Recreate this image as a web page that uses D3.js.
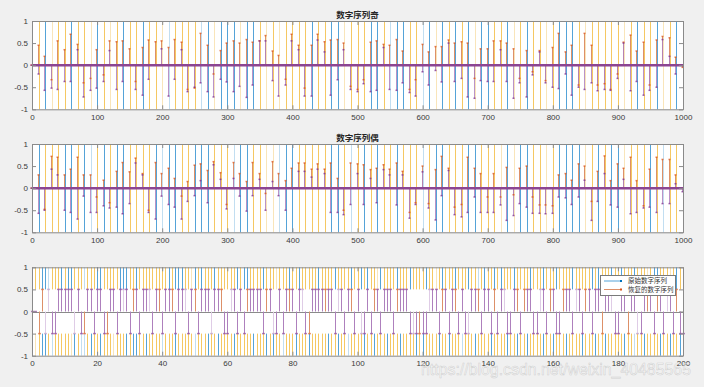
<!DOCTYPE html>
<html>
<head>
<meta charset="utf-8">
<script src="https://cdnjs.cloudflare.com/ajax/libs/d3/7.8.5/d3.min.js"></script>
<style>
  body { margin: 0; background: #f0f0f0; }
  svg { display: block; }
</style>
</head>
<body>
<div id="chart"></div>
<script>
//  STEP 1 : DATA

// odd sequence, one entry every 10 samples (0..1000)
const oddA = [0, 0.45, 0.2, -0.33, 0.55, 0.35, 0.7, 0.47, -0.4, -0.3,
  0.35, -0.22, 0.55, 0.53, 0.55, 0.37, -0.37, 0.4, 0.57, 0.53,
  0.55, 0.4, 0.58, 0.52, -0.55, -0.52, 0.72, 0.45, -0.2, 0.33,
  0.5, 0.55, 0.5, 0.58, 0.52, 0.55, 0.67, 0.32, 0.22, -0.32,
  0.7, 0.45, -0.52, 0.45, 0.7, 0.53, 0.57, 0.58, 0.5, -0.48,
  -0.55, -0.33, 0.52, 0.55, 0.47, 0.45, 0.58, 0.32, -0.55, -0.33,
  0.47, 0.3, 0.42, 0.42, 0.57, 0.5, 0.53, 0.5, -0.3, 0.37,
  0.37, 0.55, 0.55, 0.5, 0.37, -0.3, 0.33, -0.15, 0.33, -0.35,
  0.4, 0.72, 0.3, 0.45, -0.45, 0.72, 0.45, -0.45, -0.42, -0.55,
  -0.2, 0.52, 0.68, 0.32, 0.52, -0.45, 0.57, 0.65, 0.62, 0.18,
  -0.05];
const oddB = [0, -0.2, -0.57, -0.52, -0.55, -0.37, -0.37, 0.35, -0.72, -0.57,
  -0.52, -0.37, 0.33, -0.55, -0.37, 0, -0.55, -0.68, -0.32, 0,
  0.37, -0.7, -0.32, 0.35, -0.6, -0.5, -0.4, -0.6, -0.72, -0.32,
  -0.38, -0.6, -0.48, -0.73, -0.45, 0.55, 0.55, -0.35, -0.7, -0.45,
  0.55, 0.35, -0.7, -0.7, 0.57, 0.3, -0.68, -0.33, 0.35, -0.55,
  -0.6, -0.42, -0.6, -0.57, 0.4, -0.55, -0.57, -0.4, -0.62, -0.7,
  -0.15, -0.45, -0.12, -0.38, 0.5, -0.37, -0.3, -0.72, -0.75, -0.35,
  -0.37, -0.37, 0.35, -0.37, -0.75, -0.4, -0.72, -0.22, 0.3, -0.4,
  -0.5, -0.53, -0.2, -0.68, -0.5, -0.55, -0.4, -0.58, -0.55, -0.57,
  -0.3, 0.5, -0.58, -0.37, -0.68, -0.57, -0.5, 0.58, 0.2, -0.2,
  0];
const oddColor = ('yybYyybyyY' + 'byYybyybyy' + 'YByyyyBbYb' + 'bbYbbyYyYy' + 'yyybyybbYy' +
  'yybbyBbbyy' + 'BbYbybybYb' + 'byybYybyyY' + 'ybbbyYyyyy' + 'yYybyybYyb' + 'y').split('');

// even sequence
const evenA = [0, 0.3, -0.48, 0.72, 0.7, 0.3, 0.43, 0.7, 0.3, 0.3,
  -0.2, 0.18, -0.33, 0.38, 0.58, 0.37, 0.68, 0.33, -0.5, 0.58,
  0.33, 0.45, 0.22, -0.18, 0.15, 0.52, 0.55, 0.4, 0.6, 0.35,
  -0.37, 0.58, 0.33, 0.15, 0.58, 0.33, -0.12, 0.6, 0.33, 0.17,
  0.45, 0.57, 0.57, 0.43, 0.55, 0.43, 0.57, 0.22, -0.5, 0.57,
  0.55, 0.53, 0.42, 0.45, 0.53, 0.43, 0.57, 0.38, -0.55, -0.33,
  0.5, -0.35, 0.42, 0.72, 0.45, -0.43, -0.37, 0.7, 0.45, 0.33,
  -0.2, 0.33, -0.2, 0.47, -0.15, 0.45, 0.5, -0.2, -0.38, -0.38,
  -0.4, 0.3, 0.33, 0.18, 0.55, 0.5, -0.3, 0.38, 0.73, 0.17,
  0.55, 0.45, 0.7, 0.17, -0.4, 0.43, 0.7, 0.65, 0.65, 0.3,
  0];
const evenB = [0, -0.57, -0.5, 0.43, 0.3, -0.5, -0.55, -0.7, -0.18, -0.55,
  -0.55, -0.4, -0.45, -0.43, -0.58, -0.35, 0.57, 0.3, -0.55, -0.7,
  -0.18, -0.37, -0.43, -0.7, -0.3, -0.17, 0.17, -0.33, 0.53, 0.2,
  -0.47, 0.22, -0.18, -0.52, -0.17, 0.2, -0.5, 0.15, -0.17, -0.5,
  0, 0.38, 0.38, 0.25, 0.43, 0.33, -0.55, -0.55, -0.6, -0.37,
  0.33, -0.37, 0.22, -0.33, 0.42, 0.3, -0.38, 0.3, -0.68, -0.37,
  0.37, -0.45, -0.72, -0.17, 0.4, -0.6, -0.65, -0.55, -0.2, -0.55,
  -0.55, -0.55, -0.38, -0.73, -0.62, -0.35, -0.43, -0.57, -0.57, -0.58,
  -0.57, -0.2, -0.22, -0.37, -0.2, 0.18, -0.73, -0.3, 0.33, -0.38,
  -0.43, 0.2, -0.58, -0.55, -0.45, -0.43, -0.55, -0.35, -0.35, 0.1,
  -0.08];
const evenColor = ('ybyyybbybB' + 'ybybbyyyyb' + 'Bbbyybbbyy' + 'yBbbyyYYBb' + 'byyyyybbyB' +
  'ybybyybyyy' + 'Bybbyyybby' + 'yyYbYbbyyY' + 'ybbbbYybyb' + 'bYyyybyByy' + 'y').split('');

// digital sequence, samples 0..200 (+ = 0.5, - = -0.5, 0 = 0)
const seqSign = ('00-+-+--++' + '+++-+--++-' + '++--++-+++' + '-++-+++-++' + '-+++-+++-+' +
  '+-+++-+++-' + '-++-+-++++' + '+-++--+-++' + '+-++--++++' + '+++-++-++-' +
  '+--+-++-++' + '+-++++----' + '--+++-++-+' + '+-+--+++-+' + '+-+-++--++' +
  '-+++--++-+' + '+--+++-++-' + '++-++-+++-' + '-++-++--++' + '+-++-++-+-' + '-').split('');
const seqTop = ('yyybbByyyb' + 'ybbyyyByyy' + 'bbyyyyybbb' + 'yybyyyyyyy' + 'yybybbbyyY' +
  'bybyyybyyy' + 'yyybybbyyy' + 'ybyyyYyyyb' + 'yybyyyyyby' + 'yyybyyyyby' +
  'ybybyyYbyy' + 'yybyyybyyy' + 'ybyyYybyyy' + 'byyybyyByb' + 'yybybyyyby' +
  'yyybyyybyy' + 'ybyyyybyyy' + 'yybybyyyby' + 'ybyyybyyyY' + 'ybbyyyYyby' + 'y').split('');
const seqBottom = ('YYybbyByyy' + 'yyYbyBByby' + 'ybyyyYyyyb' + 'ybbyybyyyy' + 'Byyybyyyyy' +
  'Byyybyybyy' + 'yybyyyyyby' + 'yybybyyByy' + 'ybyyybyyyy' + 'ybyybyyByy' +
  'yybyybyyyb' + 'yyybyyyyby' + 'byyyybyyby' + 'yyByyybyyy' + 'ybyyyybyyb' +
  'yybyyyybyy' + 'byyybyyyyb' + 'yyybyybyyy' + 'yybyyByyby' + 'yyybyybyyb' + 'y').split('');
const seqStem = ('ppoollpppp' + 'ppplppoppp' + 'pppopppplp' + 'popppplppo' + 'pppoppplpp' +
  'opppplppop' + 'plppppoppp' + 'ppoplppppo' + 'ppplpopppp' + 'oppplpppop' +
  'plpppopppp' + 'ppopppplpo' + 'pplpppoppp' + 'oppplppopp' + 'ppopplpppo' +
  'popppplppo' + 'pppoppplpp' + 'oppppopplp' + 'pppopplppo' + 'ppopplppop' + 'p').split('');

const yTicks = [-1, -0.5, 0, 0.5, 1];
const yLabels = ['-1', '-0.5', '0', '0.5', '1'];
const xTicksLong = [0, 100, 200, 300, 400, 500, 600, 700, 800, 900, 1000];
const xTicksShort = [0, 20, 40, 60, 80, 100, 120, 140, 160, 180, 200];
const titles = ['数字序列奇', '数字序列偶'];
const legendNames = ['原始数字序列', '恢复的数字序列'];
const watermark = 'https://blog.csdn.net/weixin_40485565';

//  STEP 2 : DRAW

const palette = {
  b: '#55a3d8', B: '#c2def1', y: '#f5c863', Y: '#f9e5ba',
  o: '#dd9068', p: '#ae80bd', l: '#dfcce6'
};
const markColor = { o: '#d95319', p: '#7e2f8e', l: '#b58fc0' };
const left = 32, right = 683;
const font = '"Liberation Sans", Arial, sans-serif';

var svg = d3.select('#chart')
  .append('svg')
  .attr('width', 704)
  .attr('height', 387);

svg.append('rect').attr('width', 704).attr('height', 387).attr('fill', '#f0f0f0');

var make_panel = (top, bottom, xmax)=>{
  var x = d3.scaleLinear().domain([0, xmax]).range([left, right]);
  var y = d3.scaleLinear().domain([-1, 1]).range([bottom, top]);
  var g = svg.append('g');
  g.append('rect')
    .attr('x', left).attr('y', top)
    .attr('width', right - left).attr('height', bottom - top)
    .attr('fill', '#fff');
  return { x: x, y: y, g: g };
}

var finish_axes = (p, xticks)=>{
  var top = p.y(1), bottom = p.y(-1);
  var ax = p.g.append('g');
  ax.append('g').attr('transform', `translate(0,${bottom})`)
    .call(d3.axisBottom(p.x).tickValues(xticks).tickFormat(d3.format('d'))
      .tickSizeInner(-4).tickSizeOuter(0).tickPadding(5));
  ax.append('g').attr('transform', `translate(0,${top})`)
    .call(d3.axisTop(p.x).tickValues(xticks).tickFormat(()=> '')
      .tickSizeInner(-4).tickSizeOuter(0));
  ax.append('g').attr('transform', `translate(${left},0)`)
    .call(d3.axisLeft(p.y).tickValues(yTicks).tickFormat((d, i)=> yLabels[i])
      .tickSizeInner(-4).tickSizeOuter(0).tickPadding(4));
  ax.append('g').attr('transform', `translate(${right},0)`)
    .call(d3.axisRight(p.y).tickValues(yTicks).tickFormat(()=> '')
      .tickSizeInner(-4).tickSizeOuter(0));
  ax.selectAll('path.domain').attr('stroke', '#8a8a8a');
  ax.selectAll('.tick line').attr('stroke', '#8a8a8a');
  ax.selectAll('text')
    .attr('fill', '#3a3a3a')
    .style('font-size', '8px')
    .style('font-family', font);
}

// top two panels : 1000 samples, one stem group every 10
var stem_panel = (top, bottom, A, B, C, title)=>{
  var p = make_panel(top, bottom, 1000);
  var x = p.x, y = p.y, g = p.g;
  var px = (i)=> Math.round(x(i * 10));

  g.selectAll('line.full').data(C).enter().append('line')
    .attr('x1', (d, i)=> px(i) + 0.5).attr('x2', (d, i)=> px(i) + 0.5)
    .attr('y1', y(1)).attr('y2', y(-1))
    .attr('stroke', (d)=> palette[d] || palette.y);

  g.selectAll('line.stemA').data(A).enter().append('line')
    .attr('x1', (d, i)=> px(i) - 0.5).attr('x2', (d, i)=> px(i) - 0.5)
    .attr('y1', y(0)).attr('y2', (d)=> y(d))
    .attr('stroke', palette.o);

  g.selectAll('line.stemB').data(B).enter().append('line')
    .attr('x1', (d, i)=> px(i) - 0.5).attr('x2', (d, i)=> px(i) - 0.5)
    .attr('y1', y(0)).attr('y2', (d)=> y(d))
    .attr('stroke', palette.p)
    .attr('stroke-opacity', 0.85);

  g.selectAll('rect.markA').data(A).enter().append('rect')
    .attr('x', (d, i)=> px(i) - 1.5).attr('y', (d)=> y(d) - 0.75)
    .attr('width', 2).attr('height', 1.5)
    .attr('fill', markColor.o)
    .attr('fill-opacity', 0.75);

  g.selectAll('rect.markB').data(B).enter().append('rect')
    .attr('x', (d, i)=> px(i) - 1.5).attr('y', (d)=> y(d) - 0.75)
    .attr('width', 2).attr('height', 1.5)
    .attr('fill', markColor.p)
    .attr('fill-opacity', 0.75);

  // baseline
  g.append('line')
    .attr('x1', left).attr('x2', right)
    .attr('y1', y(0)).attr('y2', y(0))
    .attr('stroke', '#8c4592')
    .attr('stroke-width', 2.5);

  finish_axes(p, xTicksLong);

  svg.append('text')
    .attr('x', (left + right) / 2)
    .attr('y', top - 3.5)
    .attr('text-anchor', 'middle')
    .attr('fill', '#262626')
    .style('font-family', '"Noto Sans CJK SC", sans-serif')
    .style('font-weight', 'bold')
    .style('font-size', '8.5px')
    .text(title);
}

stem_panel(21, 109.3, oddA, oddB, oddColor, titles[0]);
stem_panel(144, 232.3, evenA, evenB, evenColor, titles[1]);

// bottom panel : samples 0..200
var p3 = make_panel(267.3, 355.7, 200);
var x3 = p3.x, y3 = p3.y, g3 = p3.g;
var px3 = (i)=> Math.round(x3(i)) + 0.5;
var seqValue = seqSign.map((s)=> s === '+' ? 0.5 : (s === '-' ? -0.5 : 0));

g3.selectAll('line.top').data(seqTop).enter().append('line')
  .attr('x1', (d, i)=> px3(i)).attr('x2', (d, i)=> px3(i))
  .attr('y1', y3(1)).attr('y2', y3(0.5))
  .attr('stroke', (d)=> palette[d] || palette.y);

g3.selectAll('line.bottom').data(seqBottom).enter().append('line')
  .attr('x1', (d, i)=> px3(i)).attr('x2', (d, i)=> px3(i))
  .attr('y1', y3(-0.5)).attr('y2', y3(-1))
  .attr('stroke', (d)=> palette[d] || palette.y);

g3.append('line')
  .attr('x1', left).attr('x2', right)
  .attr('y1', Math.round(y3(0)) + 0.5).attr('y2', Math.round(y3(0)) + 0.5)
  .attr('stroke', '#8a8a8a');

g3.selectAll('line.stem').data(seqValue).enter().append('line')
  .attr('x1', (d, i)=> px3(i)).attr('x2', (d, i)=> px3(i))
  .attr('y1', y3(0)).attr('y2', (d)=> y3(d))
  .attr('stroke', (d, i)=> palette[seqStem[i]] || palette.p);

g3.selectAll('rect.mark').data(seqValue).enter().append('rect')
  .attr('x', (d, i)=> px3(i) - 1.5).attr('y', (d)=> y3(d) - 0.75)
  .attr('width', 3).attr('height', 1.5)
  .attr('fill', (d, i)=> markColor[seqStem[i]] || markColor.p)
  .attr('fill-opacity', 0.6);

finish_axes(p3, xTicksShort);

// LEGEND
var legend = svg.append('g');
legend.append('rect')
  .attr('x', 600.5).attr('y', 275.5)
  .attr('width', 75).attr('height', 20)
  .attr('fill', '#fff')
  .attr('stroke', '#7a7a7a');

var legendColors = [palette.b, palette.o];
var legendMarks = ['#0072bd', markColor.o];
legendNames.forEach((name, i)=>{
  var ly = 281 + i * 8.5;
  legend.append('line')
    .attr('x1', 604).attr('x2', 622)
    .attr('y1', ly).attr('y2', ly)
    .attr('stroke', legendColors[i]);
  legend.append('rect')
    .attr('x', 620).attr('y', ly - 1)
    .attr('width', 2).attr('height', 2)
    .attr('fill', legendMarks[i]);
  legend.append('text')
    .attr('x', 628).attr('y', ly + 2.3)
    .attr('fill', '#333')
    .style('font-family', '"Noto Sans CJK SC", sans-serif')
    .style('font-size', '6.5px')
    .text(name);
});

// WATERMARK (lies over the x tick labels, as in the figure)
svg.append('text')
  .attr('x', 421).attr('y', 375)
  .attr('textLength', 270)
  .attr('lengthAdjust', 'spacingAndGlyphs')
  .attr('fill', '#ffffff')
  .attr('fill-opacity', 0.5)
  .attr('stroke', '#9a9a9a')
  .attr('stroke-opacity', 0.4)
  .attr('stroke-width', 0.6)
  .style('font-family', font)
  .style('font-size', '17px')
  .text(watermark);
</script>
</body>
</html>
